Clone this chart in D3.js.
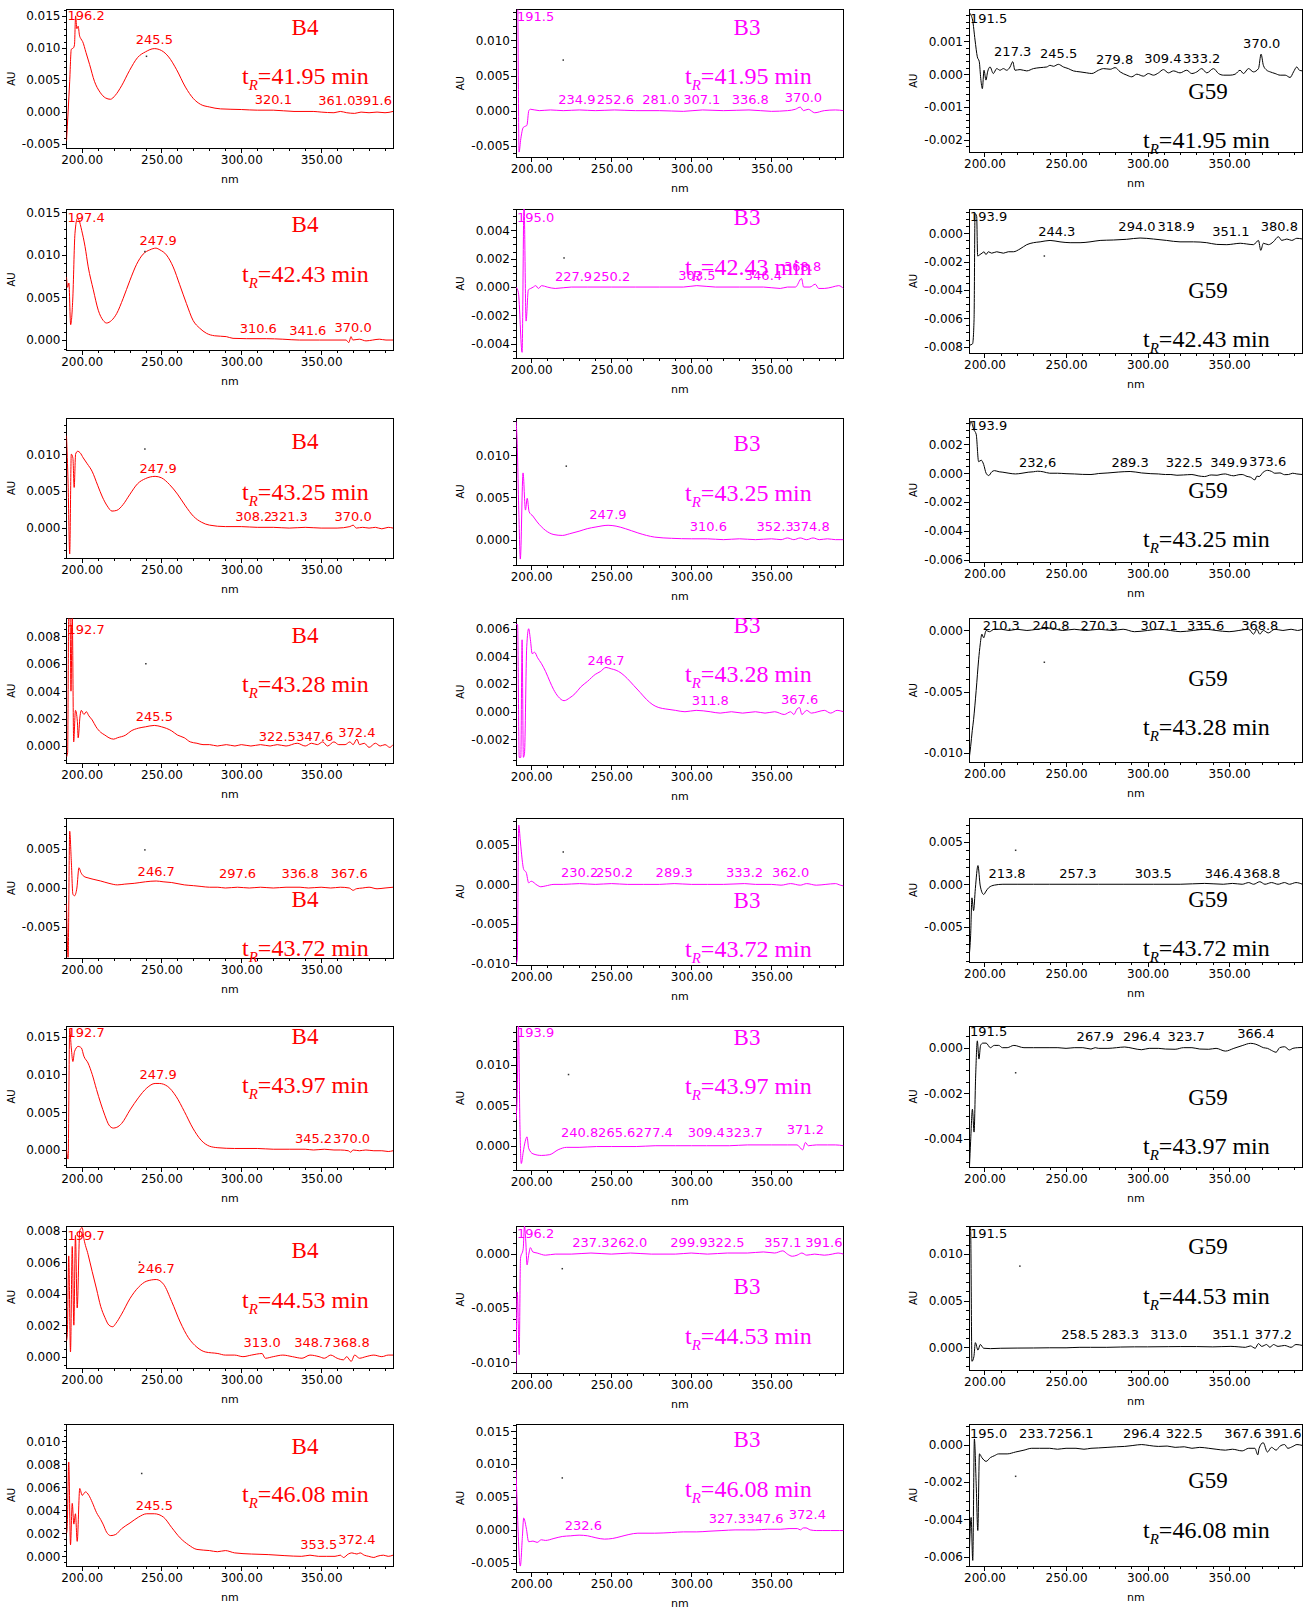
<!DOCTYPE html>
<html>
<head>
<meta charset="utf-8">
<script src="https://cdnjs.cloudflare.com/ajax/libs/d3/7.8.5/d3.min.js"></script>
<style>
  body { margin: 0; background: #fff; }
  svg { font-family: "DejaVu Sans", sans-serif; }
</style>
</head>
<body>
<svg id="chart" width="1316" height="1612"></svg>
<script>
// ---------------- data ----------------
var times = ["41.95", "42.43", "43.25", "43.28", "43.72", "43.97", "44.53", "46.08"];
var samples = ["B4", "B3", "G59"];
var nmDomain = [190.5, 395];
var nmMajor = [200, 250, 300, 350];
var nmMinor = [200, 210, 220, 230, 240, 250, 260, 270, 280, 290, 300, 310, 320, 330, 340, 350, 360, 370, 380, 390];

// spectra  [nm, AU]
var b4_4195 = [[190.5,-0.0045],[191.5,0.0],[192.5,0.0048],[193.5,0.0098],[194.8,0.0100],[195.5,0.0105],[196.2,0.0150],[197.0,0.0130],[197.8,0.0134],[198.6,0.0120],[199.6,0.0114],[200.6,0.0110],[202.7,0.0093],[205,0.0074],[208,0.0048],[211.5,0.0031],[215,0.0022],[218,0.0020],[221,0.0026],[225,0.0041],[230,0.0065],[235,0.0085],[240,0.0094],[245.5,0.0099],[250,0.0096],[254.5,0.0086],[259.5,0.0066],[265,0.0039],[270,0.0021],[274.5,0.0012],[280,0.0008],[287,0.0005],[300,0.0004],[310,0.0003],[320,0.0003],[333,0.0001],[345,0.0001],[350,0.0],[358,-0.0001],[362,0.0001],[366,-0.0001],[371,-0.0002],[375,0.0],[380,-0.0001],[385,0.0],[390,-0.0001],[395,0.0001]];
var b3_4195 = [[190.5,0.015],[191.5,0.016],[192.4,-0.0059],[193.5,-0.004],[195,-0.0024],[196.5,-0.0022],[197.3,-0.0021],[198.5,0.0],[199.5,0.0002],[205,0.0],[212,0.0001],[220,0.0],[230,0.0001],[240,0.0],[252,0.0001],[265,0.0],[280,0.0],[295,-0.0001],[307,0.0001],[320,0.0],[336,0.0001],[350,-0.0001],[360,0.0],[365,0.0002],[368,0.0005],[370,0.0],[373,0.0002],[377,-0.0003],[383,0.0],[390,0.0001],[395,0.0]];
var g59_4195 = [[190.6,0.0019],[191.1,0.00185],[192.7,0.00165],[194.2,0.00104],[195.6,0.00053],[196.8,0.00038],[197.7,-0.00013],[198.7,-0.00044],[199.7,0.00012],[200.9,-0.00018],[201.9,0.00007],[203.4,0.00022],[205.4,0.00002],[207.5,0.00017],[209.5,0.00012],[211.6,0.00017],[213.6,0.00012],[215.7,0.00022],[217.3,0.00038],[218.7,0.00012],[221.8,0.00014],[225.9,0.0001],[230,0.00017],[234.1,0.0002],[238.2,0.00022],[240.2,0.00027],[242.3,0.00024],[245.3,0.0003],[248.4,0.00022],[251.4,0.00017],[254.5,0.0001],[258.6,0.00007],[262.7,0.00004],[265.8,0.00002],[269.9,0.00012],[273,0.00017],[277.1,0.00015],[280.1,0.0002],[283.2,0.00007],[287.3,-0.00003],[290.3,-0.00008],[293.4,0.0],[297.5,-0.00006],[300.5,0.00002],[303.6,-0.00003],[306.7,0.00004],[309.7,0.00014],[312.8,0.00004],[315.9,0.0001],[319.9,0.00004],[324,0.00012],[327.1,0.00002],[330.2,0.00007],[333.2,0.00017],[336.3,0.00004],[340.4,0.00017],[343.5,0.00002],[346.5,-0.00003],[350.6,-0.00003],[353.7,0.0],[356.7,0.00012],[358.8,0.00002],[361.9,0.00017],[364.9,0.00007],[368,0.00017],[369.6,0.00061],[371,0.00027],[373.1,0.00012],[375.2,0.00007],[378.2,0.00002],[381.3,-0.00003],[384.4,-0.00003],[387.4,-0.0001],[389.5,0.00007],[391.5,0.00022],[393.1,0.00012],[395,0.0001]];

var b4_4243 = [[190.5,0.0074],[191.2,0.0062],[192,0.0067],[193.1,0.0018],[194.4,0.0047],[195.8,0.0125],[197.3,0.0143],[198.3,0.0141],[200,0.0129],[202.1,0.011],[204.1,0.0086],[207.3,0.0059],[210.4,0.0035],[213.5,0.0023],[215.6,0.002],[218.7,0.0023],[221.9,0.0031],[226,0.0049],[230.2,0.007],[234.4,0.0089],[238.5,0.0101],[242.7,0.0106],[246.5,0.0108],[249,0.0106],[253.1,0.01],[257.3,0.0086],[261.4,0.0065],[265.6,0.0043],[269.8,0.0023],[273.9,0.0014],[278.1,0.0008],[283.3,0.0005],[290.6,0.0004],[294.8,0.0002],[303.1,0.00016],[315.6,0.00016],[326,0.0001],[336.4,0.0],[348.9,0.0],[359.3,0.0],[365.6,0.0],[367.3,-0.0003],[368.7,0.0004],[369.8,0.0],[373.9,0.0001],[378.1,-0.0001],[382.3,0.0],[386.4,0.0001],[390.6,0.0],[395,0.0]];
var b3_4243 = [[190.5,0.0],[192,-0.0004],[194.3,-0.0046],[195.5,0.0060],[196.8,-0.0024],[198.2,-0.0002],[199.7,-0.0001],[201.3,0.0],[202.8,0.0001],[204.5,-0.0001],[206.5,0.0001],[210,0.0],[215,-0.0001],[225,0.0],[235,0.0],[250,0.0],[265,0.0],[280,0.0],[295,0.0],[303.4,0.0001],[315,0.0],[330,0.0],[345,0.0],[355.5,-0.0001],[360,0.0],[365,0.0],[368.8,0.0006],[370.1,0.0],[374,0.0],[377.4,0.0002],[379.5,-0.0001],[383,-0.0001],[388,0.0],[392,0.0001],[395,-0.0001]];
var g59_4243 = [[190.8,-0.0079],[192.7,-0.0078],[193.6,-0.0061],[194.2,0.0014],[195.2,0.0012],[195.8,-0.0016],[197.2,-0.0015],[198.5,-0.0014],[199.7,-0.0013],[200.9,-0.0015],[202.4,-0.0013],[204.4,-0.0014],[207.5,-0.0013],[211.6,-0.0014],[214.6,-0.0013],[217.7,-0.0013],[221.8,-0.0011],[225.9,-0.0008],[230,-0.00066],[234.1,-0.0006],[240.2,-0.0005],[246.3,-0.0006],[252.5,-0.00066],[258.6,-0.00066],[264.7,-0.0006],[270.9,-0.0005],[279,-0.00047],[287.2,-0.00042],[295.4,-0.00033],[303.6,-0.0004],[311.7,-0.0005],[319.9,-0.0006],[328.1,-0.0006],[336.3,-0.00066],[342.4,-0.00078],[348.6,-0.0008],[352.7,-0.00075],[356.8,-0.0007],[360.8,-0.00075],[364.9,-0.0008],[368,-0.0005],[369.4,-0.0012],[371,-0.0007],[374.1,-0.0008],[377.1,-0.0006],[380.2,-0.00024],[382.3,-0.0005],[385.4,-0.0004],[388.4,-0.0005],[391.5,-0.00035],[395,-0.0004]];

var b4_4325 = [[190.5,0.0125],[191.5,0.006],[192.5,-0.0035],[193.5,0.010],[194.5,0.0095],[195.3,0.0055],[196.2,0.0100],[197.5,0.0104],[199,0.0102],[201,0.0095],[203.5,0.0087],[206.5,0.0077],[210,0.0058],[213,0.0042],[216,0.003],[219,0.0023],[222,0.0024],[226,0.0032],[230,0.0045],[235,0.0060],[240,0.0067],[246,0.0070],[250,0.0068],[255,0.0059],[260,0.0046],[265,0.003],[270,0.0016],[275,0.0008],[280,0.0004],[290,0.0002],[300,0.0002],[310,0.0001],[320,0.0001],[330,0.0],[340,0.0001],[350,0.0],[360,0.0],[368,0.0002],[370,0.0004],[372,0.0],[376,0.0001],[380,0.0],[384,0.0001],[388,-0.0001],[392,0.0001],[395,0.0]];
var b3_4325 = [[190.5,0.0140],[191.1,0.0122],[192.3,0.003],[193.2,-0.0023],[194.9,0.0079],[196.4,0.0035],[197.5,0.0049],[198.7,0.0033],[201,0.0028],[203.7,0.0021],[208.9,0.0011],[214.2,0.0006],[219.4,0.0005],[224,0.0007],[229.9,0.001],[235,0.0013],[240.4,0.0015],[248,0.0017],[253,0.0016],[258.8,0.0013],[266.6,0.0008],[272,0.0005],[277.1,0.0003],[287.6,0.00016],[300,0.0001],[310,0.0001],[320,0.0],[330,0.0001],[340,0.0],[350,0.0001],[356,0.0],[360,0.0002],[364,0.0],[368,0.0002],[372,0.0],[376,0.0002],[380,0.0],[385,0.0001],[390,0.0],[395,0.0]];
var g59_4325 = [[190.6,0.0030],[191.7,0.0036],[193.5,0.0030],[194.9,0.0027],[196.4,0.0008],[198,0.0009],[199.5,0.0006],[201,0.0],[202.6,-0.00016],[204.5,0.0001],[206.1,0.00018],[209,0.0001],[211.3,0.00007],[215,0.0],[219,-0.00005],[223,0.0],[226.8,0.00007],[230,0.0001],[232.6,0.00014],[236,0.0001],[240,0.0],[244.8,0.0],[250,-0.00003],[255.1,-0.00005],[260,-0.00008],[265.3,-0.00009],[270,-0.00002],[275.7,0.00002],[282,0.00008],[289.3,0.00012],[296.3,0.00002],[302,-0.00003],[306.6,-0.00005],[311,-0.00009],[314.3,-0.00009],[318,-0.00014],[322,-0.00012],[327.2,-0.00009],[331,-0.00018],[334.9,-0.00023],[339,-0.00012],[342.6,-0.00014],[345,-0.00008],[347.7,-0.00005],[350,-0.00012],[352.9,-0.00018],[356,-0.0001],[358,-0.00009],[361,-0.00022],[363.2,-0.00028],[365.8,-0.00046],[367,-0.0002],[368.4,-0.00023],[370.9,0.00007],[373.6,0.0002],[376.1,0.00012],[378,0.0],[381.2,0.00002],[384,-0.0001],[386.4,-0.00009],[389,0.0],[391.5,-0.00005],[395,-0.00009]];

var b4_4328 = [[190.5,-0.0008],[191.2,-0.0005],[191.9,0.0095],[192.7,0.0095],[193.3,0.004],[194.1,0.0095],[195,0.0003],[196.1,0.0026],[197.3,0.0018],[197.8,0.0006],[199,0.0022],[199.8,0.0026],[201.4,0.0023],[202.9,0.0025],[204.5,0.0022],[206.6,0.0019],[209,0.0014],[211.9,0.001],[214.5,0.0008],[217.1,0.0006],[220,0.0005],[222.4,0.0006],[227.6,0.0008],[231,0.0011],[235.5,0.0013],[240,0.0014],[245.5,0.0015],[250,0.0014],[256.4,0.0011],[260,0.0008],[264.3,0.0006],[268,0.0003],[272.2,0.0002],[276,0.0001],[280.1,0.0001],[285,0.0],[290.6,0.0001],[296,0.0],[300,0.0001],[306,0.0],[312,0.0001],[318,0.0],[322.5,0.0001],[328,0.0],[335,0.0002],[340,0.0],[344,0.0002],[347.6,0.0001],[351,0.0003],[354,0.0],[358,0.0003],[361,0.0001],[365,0.0001],[368,0.0003],[370,0.0001],[372.4,0.0005],[374,0.0001],[377,0.0002],[380,-0.0001],[384,0.0002],[387,0.0],[390,0.0001],[393,-0.0001],[395,0.0001]];
var b3_4328 = [[190.5,0.0063],[191.5,0.0063],[192.5,-0.0033],[193.5,-0.0033],[194.3,0.0052],[195.1,-0.0033],[195.8,-0.003],[197.2,0.0047],[198.4,0.006],[199.5,0.0052],[200.6,0.0042],[202.1,0.0043],[204,0.0039],[206.3,0.0035],[209,0.0029],[211.6,0.0022],[214,0.0016],[216.8,0.0011],[220.5,0.0008],[224,0.0010],[227.3,0.0013],[231,0.0018],[235.2,0.0022],[240,0.0027],[243.1,0.0029],[246.7,0.0032],[250,0.0031],[253,0.0030],[256.1,0.0028],[260,0.0024],[264,0.0019],[268,0.0014],[271.9,0.0009],[276,0.0005],[279.7,0.0003],[284,0.0002],[290,0.0001],[296,0.0],[303,0.0001],[311.8,0.0],[318,-0.0001],[325,0.0],[332,-0.0001],[340,0.0],[346,-0.0001],[352,0.0],[358,-0.0002],[362,0.0],[364,-0.0002],[366,0.0002],[367.6,0.0003],[369,-0.0002],[372,0.0001],[375,-0.0001],[379,0.0],[383,0.0001],[387,-0.0001],[391,0.0001],[395,0.0]];
var g59_4328 = [[190.6,-0.0105],[191.5,-0.0095],[192.5,-0.0082],[193.3,-0.0073],[194.9,-0.0049],[196.4,-0.0024],[197.4,-0.0011],[198.4,-0.0003],[199.5,-0.0006],[201,0.0],[203,-0.0001],[206,0.0001],[210.3,0.0001],[215,0.0],[220,0.0001],[226,0.0],[232,0.0001],[240.8,0.0002],[248,0.0],[255,0.0001],[262,0.0],[270.3,0.0001],[278,0.0],[285,0.0001],[292,-0.0001],[300,0.0],[307.1,0.0001],[314,0.0],[320,-0.0001],[328,0.0],[335.6,0.0001],[342,0.0],[350,-0.0001],[356,0.0],[362,0.0001],[365,-0.0003],[367,0.0001],[368.8,-0.0003],[371,0.0],[374,-0.0002],[378,0.0001],[383,0.0],[388,0.0001],[392,0.0],[395,0.0001]];

var b4_4372 = [[190.5,-0.0020],[191.5,-0.0089],[192.5,0.0073],[193.5,0.0035],[194.5,-0.0008],[195.5,-0.0010],[197,0.0],[198.3,0.0026],[199.5,0.0020],[201.4,0.0015],[204,0.0013],[207.7,0.0011],[211.9,0.0009],[217.1,0.0006],[222.4,0.0004],[227,0.0005],[232.9,0.0006],[240,0.0008],[246.7,0.0009],[251,0.0008],[256.4,0.0007],[264.3,0.0004],[270,0.0003],[274.8,0.0002],[280,0.0001],[285.3,0.0001],[290,0.0],[297.6,0.0001],[305,0.0],[312,0.0001],[320,0.0],[328,0.0001],[336.8,0.0001],[342,0.0],[350,0.0001],[356,0.0],[362,0.0001],[367.6,0.0],[370,-0.0003],[372,-0.0001],[376,0.0],[380,0.0001],[385,-0.0001],[390,0.0],[395,0.0001]];
var b3_4372 = [[190.5,-0.0100],[191.3,-0.0095],[192.2,0.0075],[193.2,0.0055],[193.8,0.0042],[195.3,0.0019],[196.9,0.0015],[198.4,0.0002],[200,0.0004],[203.7,-0.0001],[206,-0.0003],[208.9,-0.0002],[214.2,0.0],[220,0.0],[230.2,0.0001],[240,0.0],[250.2,0.0001],[260,0.0],[270,0.0],[280,0.0],[289.3,0.0001],[300,0.0],[310,0.0],[320,0.0],[333.2,0.0001],[340,0.0],[350,0.0],[356,-0.0001],[362,0.0001],[368,-0.0001],[372,0.0001],[378,-0.0001],[384,0.0],[390,0.0001],[393,-0.0001],[395,-0.0002]];
var g59_4372 = [[190.6,-0.0085],[191.5,-0.0060],[192.3,-0.0016],[193.3,-0.0031],[194.4,-0.0005],[196,0.0022],[197.4,-0.0002],[199.5,-0.0012],[201,-0.0008],[202.6,-0.0004],[206.1,-0.0001],[211.3,0.0],[220,0.0],[230,0.0],[240,0.0],[257.3,0.0],[270,0.0],[285,0.0],[303.5,0.0],[320,0.0],[335,0.0001],[346.4,0.0],[352,0.0001],[358,0.0],[362,0.0002],[365,0.0],[368.8,0.0003],[372,0.0],[376,0.0002],[380,0.0],[384,0.0002],[387,0.0],[391,0.0002],[395,0.0]];

var b4_4397 = [[190.5,0.0],[191.5,-0.0012],[192.5,0.016],[193.5,0.0135],[194.5,0.0117],[195.5,0.013],[197.8,0.0137],[199.8,0.0135],[201.4,0.0124],[204,0.0115],[206.6,0.0100],[209.3,0.0080],[211.9,0.0062],[214.5,0.0046],[217.1,0.0033],[219.8,0.0029],[222,0.0030],[225,0.0035],[230.3,0.0053],[235.5,0.0069],[240.8,0.0082],[246,0.0088],[248.6,0.0088],[253.9,0.0084],[259.1,0.0071],[264.3,0.0051],[269.6,0.0029],[274.8,0.0013],[280.1,0.0005],[285.3,0.0003],[295.8,0.0002],[310,0.0002],[320,0.0001],[330,0.0001],[340,0.0001],[345.2,0.0],[352,0.0001],[358,0.0],[362,0.0],[367,-0.0001],[368.5,-0.0003],[370,0.0],[374,-0.0001],[378,0.0],[383,-0.0001],[388,-0.0001],[392,-0.0002],[395,-0.0001]];
var b3_4397 = [[190.5,0.0032],[191.2,0.0060],[192,0.0150],[193,0.0020],[193.8,-0.0022],[195,-0.0008],[196.2,0.0005],[197.4,0.0011],[198.4,-0.0003],[201.1,-0.0010],[206.3,-0.0012],[211.6,-0.0011],[216.8,-0.0005],[222.1,-0.0002],[229.9,-0.0002],[240.8,-0.0001],[250,-0.0001],[265.6,-0.0001],[277.4,0.0],[290,0.0],[300,0.0],[309.4,0.0],[323.7,0.0],[335,0.0001],[350,0.0001],[360,0.0001],[366,0.0001],[369.5,-0.0005],[371.2,0.0004],[373,0.0],[378,0.0001],[385,0.0001],[390,0.0001],[395,0.0]];
var g59_4397 = [[190.8,-0.0052],[191.5,-0.0041],[192.6,-0.0027],[193.6,-0.0037],[194.6,-0.0012],[195.6,0.0003],[196.6,-0.0005],[197.6,0.0001],[199,0.0002],[201,0.0002],[203.6,0.0],[206,0.0001],[208.7,0.0001],[211,0.0],[213.9,0.0],[218,0.0001],[224.2,0.0],[230,0.0],[239.6,0.0],[245,0.0],[250,-0.00003],[255,0.0],[260.3,0.0],[265.3,-0.00006],[267.9,0.0],[270,-0.00003],[275.7,-0.00003],[281,0.0],[286,0.00003],[291,-0.00003],[296.3,-0.00009],[301,-0.00003],[306.6,-0.00003],[311,-0.00006],[316.9,-0.00007],[322,0.0],[327.2,0.0],[332,-0.00006],[337.5,-0.00007],[342,-0.00003],[347.7,-0.00015],[352.9,-0.00003],[358,0.00009],[363.2,0.00019],[366.4,0.00015],[368.4,0.00009],[371,0.0],[373.5,-0.00003],[376,-0.00012],[378.8,-0.0002],[381,0.0],[384,0.00004],[387,-0.0001],[389.1,-0.00003],[392,0.0],[395,0.00001]];

var b4_4453 = [[190.5,0.0010],[191,0.0014],[191.9,0.0064],[193,0.0003],[194.1,0.0070],[195.1,0.0020],[196.1,0.0077],[197.2,0.0031],[198.8,0.0080],[200.3,0.0082],[201.4,0.0075],[204,0.0065],[206.6,0.0054],[209.3,0.0043],[211.9,0.0032],[214.5,0.0025],[217.1,0.0020],[219.5,0.0019],[221.3,0.0021],[225,0.0027],[230.3,0.0037],[235.5,0.0044],[240.8,0.0048],[246.7,0.0049],[251.3,0.0046],[256.4,0.0035],[261.7,0.0022],[266.9,0.0012],[272.2,0.0006],[277.4,0.0003],[285.3,0.0002],[290,0.0001],[295.8,0.0001],[301,0.0],[306.3,0.0001],[313,0.0002],[315,-0.0001],[320,0.0],[326,0.0001],[332,0.0],[338,-0.0001],[343,0.0001],[348.7,0.0],[352,-0.0001],[356,0.0001],[360,-0.0001],[364,-0.0002],[366,0.0],[368.8,-0.0003],[371,0.0001],[374,-0.0001],[378,0.0],[383,0.0001],[388,0.0],[392,0.0001],[395,0.0001]];
var b3_4453 = [[190.5,-0.0108],[191.3,-0.0035],[192.5,-0.0093],[193.3,-0.0004],[195,0.0005],[195.8,0.0026],[196.6,0.0012],[197.4,-0.0010],[198.5,0.0],[199.5,0.0006],[201,0.0002],[203.7,0.0001],[208.9,-0.0001],[215,0.0],[225,0.0],[237.3,0.0001],[250,0.0],[262,0.0001],[275,0.0],[290,0.0],[299.9,0.0001],[310,0.0],[322.5,0.0001],[335,0.0001],[345,0.0002],[352,0.0001],[357.1,0.0003],[360,0.0],[363,-0.0002],[366,-0.0001],[369,0.0001],[372,-0.0001],[377,0.0],[383,-0.0001],[388,0.0],[391.6,0.0001],[395,0.0]];
var g59_4453 = [[190.5,0.0135],[191.5,0.0125],[192.3,-0.0015],[193.5,-0.001],[194.4,0.0005],[196,-0.0003],[197.4,0.0003],[199.5,-0.0001],[203.6,-0.00014],[210,-0.0001],[220,-0.00008],[230,-0.00007],[240,-0.00005],[250,-0.00005],[258.5,0.0],[265,0.0],[275,0.0],[283.3,0.00003],[292,0.00005],[300,0.00005],[313,0.00007],[320,0.00008],[330,0.00008],[340,0.00005],[351.1,0.0001],[356,0.00005],[360,0.0],[363,0.00015],[366,-0.0001],[368,0.0004],[370,0.0001],[373,0.0003],[375,0.0],[377.2,0.0003],[380,0.0001],[384,0.0002],[388,0.0],[391,0.0003],[395,0.0002]];

var b4_4608 = [[190.5,0.0020],[190.9,0.0024],[191.9,0.0082],[193,0.0010],[194.1,0.0046],[195.1,0.0028],[196.1,0.0037],[197.2,0.0013],[198.8,0.0059],[200.3,0.0053],[202.4,0.0056],[204.5,0.0053],[206.6,0.0047],[209.3,0.0038],[211.9,0.0032],[213.4,0.0028],[215.6,0.0021],[218.2,0.0018],[221.3,0.0019],[225,0.0024],[230.3,0.0029],[235.5,0.0034],[240.8,0.0037],[245.5,0.0037],[251.3,0.0034],[256.4,0.0025],[261.7,0.0016],[266.9,0.0010],[272.2,0.0006],[280.1,0.0005],[285,0.0004],[290,0.0005],[295.8,0.0003],[306.3,0.0002],[316.8,0.00015],[327.3,0.00006],[337.8,0.0],[343,0.0001],[348.3,0.0],[353.5,0.0],[358.7,0.0],[362,0.0001],[364,-0.0001],[367,0.0002],[369.2,0.0003],[372.4,0.0002],[374.4,0.0003],[377,0.0001],[379.8,0.0],[383,-0.0001],[385,0.0],[389,0.0001],[392,0.0],[395,0.0001]];
var b3_4608 = [[190.5,0.0092],[191.2,0.004],[193.2,-0.0055],[194.5,-0.001],[195.3,0.0018],[196.9,0.0003],[198.4,-0.0018],[201.1,-0.0017],[203.7,-0.0019],[206.3,-0.0015],[208.9,-0.0016],[214.2,-0.0013],[219.4,-0.0010],[224.7,-0.0009],[229.9,-0.0008],[235.2,-0.0009],[240.4,-0.0012],[245.7,-0.0014],[250.9,-0.0013],[256.1,-0.0010],[261,-0.0007],[266.6,-0.0005],[277.1,-0.0005],[287.6,-0.0004],[295,-0.0003],[303.4,-0.0003],[311,-0.0002],[319.1,-0.0001],[327.3,0.0],[334,0.0],[340.1,0.0],[347.6,0.0001],[355.8,0.0001],[361,0.0002],[366.3,0.0002],[368,0.0],[370,0.0003],[371.6,0.0003],[374.2,0.0],[378,-0.0001],[382.1,-0.0001],[387,-0.0001],[392.6,-0.0001],[395,-0.0001]];
var g59_4608 = [[190.7,-0.0058],[191.8,-0.0039],[192.8,-0.0062],[193.8,0.0003],[194.9,-0.0021],[195.9,-0.0046],[196.9,-0.0005],[198.4,-0.0007],[201,-0.0009],[203.6,-0.0007],[206,-0.0006],[208.7,-0.0005],[213.9,-0.0005],[219,-0.0004],[224.2,-0.0003],[229,-0.0002],[233.7,-0.0002],[240,-0.0002],[244.8,-0.00025],[250,-0.0002],[256.1,-0.0002],[261,-0.00025],[265.3,-0.0002],[270,-0.00018],[275.7,-0.00015],[281,-0.00012],[286,-0.0001],[291,-0.00005],[296.4,0.0],[301,-0.00005],[306.6,-0.0001],[312,-0.00008],[316.9,-0.00015],[322.5,-0.00012],[327.2,-0.0002],[332,-0.00015],[337.5,-0.0002],[342,-0.00025],[347.7,-0.0003],[352,-0.00025],[358,-0.00034],[362,-0.0002],[365.8,-0.0002],[367.6,-0.00055],[368.4,-0.0002],[370.9,0.0001],[373.5,-0.0004],[376,-0.00015],[378.8,-0.0003],[381,-0.0001],[384,0.0],[386,-0.0002],[389.1,-0.0001],[391.6,0.0],[395,-0.00005]];

// peak labels  [text, nm where label sits, AU of baseline]
var b4_4195_pk = [["196.2",196.2,0.0143],["245.5",245.5,0.0106],["320.1",320.1,0.0013],["361.0",359.8,0.00104],["391.6",391.6,0.00104]];
var b3_4195_pk = [["191.5",191.5,0.0127],["234.9",228.5,0.0009],["252.6",252.6,0.0009],["281.0",281.0,0.0009],["307.1",306.5,0.0009],["336.8",336.8,0.0009],["370.0",370.0,0.0013]];
var g59_4195_pk = [["191.5",191.5,0.00156],["217.3",217.3,0.00054],["245.5",245.5,0.00049],["279.8",279.8,0.00031],["309.4",309.4,0.00033],["333.2",333.2,0.00033],["370.0",370.0,0.0008]];
var b4_4243_pk = [["197.4",197.4,0.0139],["247.9",247.9,0.0112],["310.6",310.6,0.00085],["341.6",341.6,0.00064],["370.0",370.0,0.00092]];
var b3_4243_pk = [["195.0",195.0,0.0046],["227.9",226.4,0.00044],["250.2",250.2,0.00044],["303.5",303.5,0.00047],["346.4",345,0.00047],["368.8",369.5,0.0011]];
var g59_4243_pk = [["193.9",193.9,0.00086],["244.3",244.3,-0.0002],["294.0",293.5,0.00015],["318.9",317.5,0.00015],["351.1",351.1,-0.0002],["380.8",380.8,0.00015]];
var b4_4325_pk = [["247.9",247.9,0.0074],["308.2",307.8,0.00097],["321.3",330.0,0.00097],["370.0",370.0,0.00097]];
var b3_4325_pk = [["247.9",247.9,0.00243],["310.6",310.6,0.00104],["352.3",352.3,0.00104],["374.8",374.8,0.00104]];
var g59_4325_pk = [["193.9",193.9,0.003],["232,6",232.6,0.00045],["289.3",289.3,0.00045],["322.5",322.5,0.00045],["349.9",349.9,0.00045],["373.6",373.6,0.0005]];
var b4_4328_pk = [["192.7",192.7,0.0082],["245.5",245.5,0.00185],["322.5",322.5,0.0004],["347.6",346,0.0004],["372.4",372.4,0.00064]];
var b3_4328_pk = [["246.7",246.7,0.0034],["311.8",311.8,0.00047],["367.6",367.6,0.00057]];
var g59_4328_pk = [["210.3",210.3,0.00004],["240.8",240.8,0.00004],["270.3",270.3,0.00004],["307.1",307.1,0.00004],["335.6",335.6,0.00004],["368.8",368.8,0.00004]];
var b4_4372_pk = [["246.7",246.7,0.00156],["297.6",297.6,0.00127],["336.8",336.8,0.00127],["367.6",367.6,0.00127]];
var b3_4372_pk = [["230.2",230.2,0.0009],["250.2",252,0.0009],["289.3",289.3,0.0009],["333.2",333.2,0.0009],["362.0",362.0,0.0009]];
var g59_4372_pk = [["213.8",213.8,0.0007],["257.3",257.3,0.0007],["303.5",303.5,0.0007],["346.4",346.4,0.0007],["368.8",370,0.0007]];
var b4_4397_pk = [["192.7",192.7,0.015],["247.9",247.9,0.0094],["345.2",345.2,0.00095],["370.0",369,0.00095]];
var b3_4397_pk = [["193.9",193.9,0.0135],["240.8",230.2,0.00105],["265.6",253.4,0.00105],["277.4",276.8,0.00105],["309.4",309.3,0.00105],["323.7",333,0.00105],["371.2",371.2,0.0014]];
var g59_4397_pk = [["191.5",191.5,0.0005],["267.9",267.9,0.00028],["296.4",296.4,0.00028],["323.7",323.7,0.00028],["366.4",366.4,0.00043]];
var b4_4453_pk = [["199.7",199.7,0.0074],["246.7",246.7,0.0053],["313.0",313.0,0.0006],["348.7",344.8,0.0006],["368.8",368.8,0.0006]];
var b3_4453_pk = [["196.2",196.2,0.0015],["237.3",237.3,0.0007],["262.0",260.8,0.0007],["299.9",298.5,0.0007],["322.5",321.6,0.0007],["357.1",357.1,0.0007],["391.6",391.6,0.0007]];
var g59_4453_pk = [["191.5",191.5,0.01176],["258.5",258.5,0.00087],["283.3",283.3,0.00087],["313.0",313.0,0.00087],["351.1",351.1,0.00087],["377.2",377.2,0.00087]];
var b4_4608_pk = [["245.5",245.5,0.004],["353.5",348.5,0.0006],["372.4",372.4,0.0011]];
var b3_4608_pk = [["232.6",232.6,0.0],["327.3",322.5,0.0011],["347.6",346,0.0011],["372.4",372.4,0.0016]];
var g59_4608_pk = [["195.0",195.0,0.00036],["233.7",232.5,0.00036],["256.1",255.5,0.00036],["296.4",296.4,0.00036],["322.5",322.5,0.00036],["367.6",358.5,0.00036],["391.6",391.6,0.00036]];

// y ranges (AU) and major tick step, one per panel
var yDomains = [
  [[-0.0056,0.0160],[-0.0066,0.0144],[-0.00237,0.00197]],
  [[-0.00117,0.0154],[-0.0050,0.0055],[-0.00845,0.00172]],
  [[-0.00405,0.0149],[-0.0030,0.0144],[-0.00614,0.00382]],
  [[-0.00124,0.0093],[-0.00385,0.00674],[-0.01076,0.00098]],
  [[-0.0090,0.0090],[-0.0102,0.0084],[-0.00915,0.0078]],
  [[-0.00225,0.0164],[-0.0030,0.0148],[-0.00523,0.00095]],
  [[-0.00072,0.0083],[-0.0110,0.0026],[-0.00243,0.0130]],
  [[-0.00084,0.0115],[-0.0064,0.0161],[-0.0065,0.0011]]
];
var yStep = [
  [0.005,0.005,0.001],[0.005,0.002,0.002],[0.005,0.005,0.002],[0.002,0.002,0.005],
  [0.005,0.005,0.005],[0.005,0.005,0.002],[0.002,0.005,0.005],[0.002,0.005,0.002]
];

// little cursor dots left in the export  [row, col, nm, AU]
var cursorDots = [[0,0,240.6,0.0087],[0,1,220,0.0072],[1,0,239.6,0.0104],[1,1,220.5,0.00205],[1,2,236.7,-0.0016],
  [2,0,239.6,0.0107],[2,1,221.9,0.0087],[3,0,240.2,0.006],[3,2,236.7,-0.0026],[4,0,239.6,0.0049],[4,1,220,0.0041],
  [4,2,219.1,0.004],[5,1,223.3,0.0088],[5,2,219.1,-0.0011],[6,0,236.3,0.006],[6,1,219.4,-0.00135],[6,2,221.7,0.0087],
  [7,0,237.6,0.0072],[7,1,219.4,0.0079],[7,2,219.1,-0.0017]];

var spectra = [
  [b4_4195,b3_4195,g59_4195],[b4_4243,b3_4243,g59_4243],[b4_4325,b3_4325,g59_4325],[b4_4328,b3_4328,g59_4328],
  [b4_4372,b3_4372,g59_4372],[b4_4397,b3_4397,g59_4397],[b4_4453,b3_4453,g59_4453],[b4_4608,b3_4608,g59_4608]
];
var peakLabels = [
  [b4_4195_pk,b3_4195_pk,g59_4195_pk],[b4_4243_pk,b3_4243_pk,g59_4243_pk],[b4_4325_pk,b3_4325_pk,g59_4325_pk],[b4_4328_pk,b3_4328_pk,g59_4328_pk],
  [b4_4372_pk,b3_4372_pk,g59_4372_pk],[b4_4397_pk,b3_4397_pk,g59_4397_pk],[b4_4453_pk,b3_4453_pk,g59_4453_pk],[b4_4608_pk,b3_4608_pk,g59_4608_pk]
];

// ---------------- layout ----------------
var colors = ["#ff0000", "#ff00ff", "#000000"];
var colLeft = [66.5, 516, 969];
var colRight = [393, 843.5, 1302.5];
var rowTop = [9.5, 209, 418, 618.5, 818, 1026, 1226, 1424];
var boxBottom = [[148,157,152],[350,358,353],[558,565,562],[763,765,762],[958,965,962],[1167,1170,1167],[1368,1373,1370],[1566,1572,1566]];
var nameX = [305, 747, 1208];
var nameY = [[35,35,99],[232,225,298],[449,451,498],[643,633,686],[907,908,907],[1044,1045,1105],[1258,1294,1254],[1454,1447,1488]];
var timeX = [242, 685, 1143];
var timeY = [[84,84,148],[282,275,347],[500,501,547],[692,682,735],[956,957,956],[1093,1094,1154],[1308,1344,1304],[1502,1497,1538]];
var serif = "'Liberation Serif', 'Times New Roman', serif";

var svg = d3.select("#chart");

function fmt(v) {
  if (Math.abs(v) < 1e-9) return "0.000";
  return v.toFixed(3);
}

function drawPanel(r, c) {
  var x0 = colLeft[c], x1 = colRight[c], y0 = rowTop[r], y1 = boxBottom[r][c];
  var col = colors[c];
  var x = d3.scaleLinear().domain(nmDomain).range([x0, x1]);
  var y = d3.scaleLinear().domain(yDomains[r][c]).range([y1, y0]);
  var g = svg.append("g");

  var clipId = "clip_" + r + "_" + c;
  svg.append("clipPath").attr("id", clipId)
    .append("rect").attr("x", x0).attr("y", y0).attr("width", x1 - x0).attr("height", y1 - y0);

  // y ticks
  var step = yStep[r][c], dom = yDomains[r][c];
  var sub = step === 0.002 ? 4 : 5;
  var major = d3.range(Math.ceil(dom[0] / step - 1e-6), Math.floor(dom[1] / step + 1e-6) + 1).map(function(k) { return k * step; });
  var minor = d3.range(Math.ceil(dom[0] / step * sub - 1e-6), Math.floor(dom[1] / step * sub + 1e-6) + 1).map(function(k) { return k * step / sub; });

  var yMinor = g.append("g").attr("transform", "translate(" + x0 + ",0)")
    .call(d3.axisLeft(y).tickValues(minor).tickSize(3).tickFormat(""));
  var yMajor = g.append("g").attr("transform", "translate(" + x0 + ",0)")
    .call(d3.axisLeft(y).tickValues(major).tickSize(5).tickPadding(1).tickFormat(fmt));

  var xMinor = g.append("g").attr("transform", "translate(0," + y1 + ")")
    .call(d3.axisBottom(x).tickValues(nmMinor).tickSize(3).tickFormat(""));
  var xMajor = g.append("g").attr("transform", "translate(0," + y1 + ")")
    .call(d3.axisBottom(x).tickValues(nmMajor).tickSize(5).tickPadding(2).tickFormat(function(d) { return d.toFixed(2); }));

  [yMinor, yMajor, xMinor, xMajor].forEach(function(a) {
    a.select(".domain").remove();
    a.selectAll("line").attr("stroke", "#000").attr("shape-rendering", "crispEdges");
    a.selectAll("text").attr("font-family", "DejaVu Sans").attr("font-size", 12).attr("fill", "#000");
  });

  // frame
  g.append("rect").attr("x", x0).attr("y", y0).attr("width", x1 - x0).attr("height", y1 - y0)
    .attr("fill", "none").attr("stroke", "#000").attr("stroke-width", 1).attr("shape-rendering", "crispEdges");

  // axis titles
  g.append("text").attr("transform", "translate(" + (x0 - 52) + "," + ((y0 + y1) / 2) + ") rotate(-90)")
    .attr("text-anchor", "middle").attr("font-size", 10).text("AU");
  g.append("text").attr("x", (x0 + x1) / 2).attr("y", y1 + 35)
    .attr("text-anchor", "middle").attr("font-size", 11).text("nm");

  // spectrum
  var line = d3.line().x(function(d) { return x(d[0]); }).y(function(d) { return y(d[1]); }).curve(d3.curveMonotoneX);
  g.append("path").datum(spectra[r][c])
    .attr("clip-path", "url(#" + clipId + ")")
    .attr("fill", "none").attr("stroke", col).attr("stroke-width", 1).attr("stroke-linejoin", "round")
    .attr("d", line);

  // peak labels, kept inside the box like the instrument software does
  peakLabels[r][c].forEach(function(p) {
    var t = g.append("text").attr("x", x(p[1])).attr("y", y(p[2]))
      .attr("text-anchor", "middle").attr("font-size", 13).attr("fill", col).text(p[0]);
    var w = t.node().getComputedTextLength();
    var cx = Math.max(x0 + w / 2 + 1, Math.min(x1 - w / 2 - 1, x(p[1])));
    t.attr("x", cx);
  });

  // sample name + retention time
  g.append("text").attr("x", nameX[c]).attr("y", nameY[r][c])
    .attr("text-anchor", "middle").style("font-family", serif).attr("font-size", 23)
    .attr("fill", col).text(samples[c]);
  var tr = g.append("text").attr("x", timeX[c]).attr("y", timeY[r][c])
    .style("font-family", serif).attr("font-size", 24).attr("fill", col);
  tr.append("tspan").text("t");
  tr.append("tspan").attr("font-style", "italic").attr("font-size", 15).attr("dy", 6).text("R");
  tr.append("tspan").attr("dy", -6).text("=" + times[r] + " min");
}

for (var r = 0; r < spectra.length; r++) {
  for (var c = 0; c < 3; c++) {
    drawPanel(r, c);
  }
}

// cursor dots
cursorDots.forEach(function(d) {
  var r = d[0], c = d[1];
  var x = d3.scaleLinear().domain(nmDomain).range([colLeft[c], colRight[c]]);
  var y = d3.scaleLinear().domain(yDomains[r][c]).range([boxBottom[r][c], rowTop[r]]);
  svg.append("rect").attr("x", x(d[2]) - 0.75).attr("y", y(d[3]) - 0.75)
    .attr("width", 1.5).attr("height", 1.5).attr("fill", "#333");
});
</script>
</body>
</html>
